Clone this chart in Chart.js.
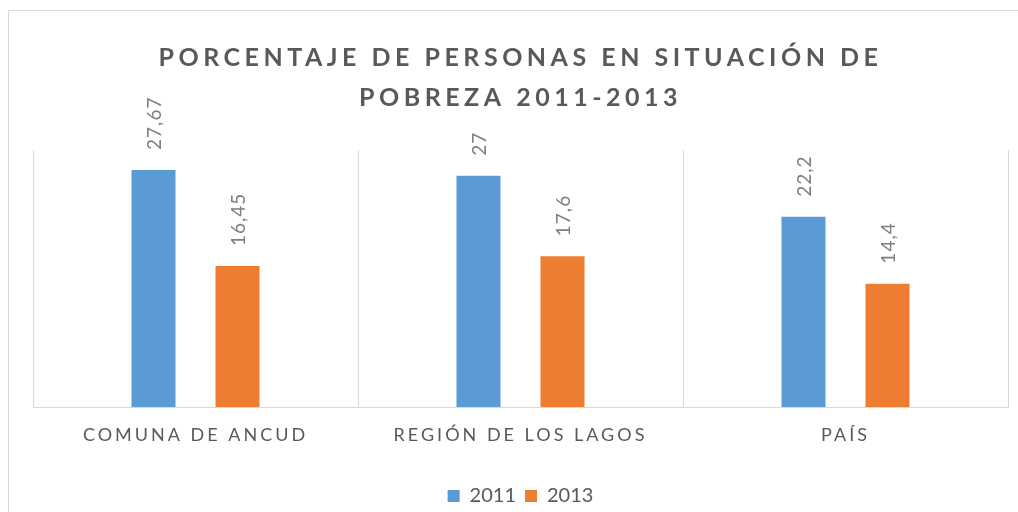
<!DOCTYPE html>
<html>
<head>
<meta charset="utf-8">
<script src="https://cdn.jsdelivr.net/npm/chart.js@4/dist/chart.umd.min.js"></script>
<style>
  html, body { margin: 0; padding: 0; background: #ffffff; }
  #wrap { width: 1018px; height: 512px; position: relative; }
</style>
</head>
<body>
<div id="wrap"><canvas id="c" width="1018" height="512"></canvas></div>
<script>
const categories = ['COMUNA DE ANCUD', 'REGIÓN DE LOS LAGOS', 'PAÍS'];
const seriesNames = ['2011', '2013'];
const values2011 = [27.67, 27, 22.2];
const values2013 = [16.45, 17.6, 14.4];
const titleLines = ['PORCENTAJE DE PERSONAS EN SITUACIÓN DE', 'POBREZA 2011-2013'];
const colors = ['#5B9BD5', '#ED7D31'];

const FONT = 'Lato';
const spacingFor = new Map();
titleLines.forEach(t => spacingFor.set(t, '4.5px'));
categories.forEach(t => spacingFor.set(t, '3px'));

const fmt = v => String(v).replace('.', ',');

const spacingPlugin = {
  id: 'spacing',
  beforeInit(chart) {
    const ctx = chart.ctx;
    const orig = ctx.fillText.bind(ctx);
    ctx.fillText = function (text, x, y, maxW) {
      const prev = ctx.letterSpacing;
      const sp = spacingFor.get(text);
      if (sp) ctx.letterSpacing = sp;
      if (maxW === undefined) orig(text, x, y); else orig(text, x, y, maxW);
      ctx.letterSpacing = prev;
    };
  },
  beforeDraw(chart) {
    const ctx = chart.ctx;
    ctx.save();
    ctx.strokeStyle = '#d9d9d9';
    ctx.lineWidth = 1;
    ctx.beginPath();
    ctx.moveTo(8.5, 512);
    ctx.lineTo(8.5, 10.5);
    ctx.lineTo(1018, 10.5);
    ctx.stroke();
    ctx.restore();
  },
  afterDatasetsDraw(chart) {
    const ctx = chart.ctx;
    ctx.save();
    ctx.font = '19px ' + FONT;
    ctx.fillStyle = '#7F7F7F';
    ctx.textAlign = 'left';
    ctx.textBaseline = 'middle';
    ctx.letterSpacing = '1px';
    chart.data.datasets.forEach((ds, di) => {
      chart.getDatasetMeta(di).data.forEach((bar, i) => {
        ctx.save();
        ctx.translate(bar.x + 1, bar.y - 20);
        ctx.rotate(-Math.PI / 2);
        ctx.fillText(fmt(ds.data[i]), 0, 0);
        ctx.restore();
      });
    });
    ctx.restore();
  }
};

new Chart(document.getElementById('c'), {
  type: 'bar',
  data: {
    labels: categories,
    datasets: [
      { label: seriesNames[0], data: values2011, backgroundColor: colors[0] },
      { label: seriesNames[1], data: values2013, backgroundColor: colors[1] }
    ]
  },
  options: {
    responsive: false,
    animation: false,
    devicePixelRatio: 1,
    categoryPercentage: 0.517,
    barPercentage: 0.524,
    layout: { padding: { left: 33, right: 10, top: 0, bottom: -4 } },
    plugins: {
      title: {
        display: true,
        text: titleLines,
        color: '#595959',
        font: { family: FONT, size: 25, weight: 'bold', lineHeight: 1.6 },
        padding: { top: 38, bottom: 32 }
      },
      legend: {
        display: true,
        position: 'bottom',
        labels: {
          color: '#595959',
          font: { family: FONT, size: 20 },
          boxWidth: 12,
          boxHeight: 12,
          padding: 9
        }
      },
      tooltip: { enabled: false }
    },
    scales: {
      x: {
        grid: { color: '#d9d9d9', drawTicks: false, offset: true },
        border: { color: '#d9d9d9' },
        afterFit(scale) { scale.height = 70; },
        ticks: {
          color: '#595959',
          font: { family: FONT, size: 18 },
          padding: 17,
          maxRotation: 0,
          autoSkip: false
        }
      },
      y: { display: false, min: 0, max: 30 }
    }
  },
  plugins: [spacingPlugin]
});
</script>
</body>
</html>
